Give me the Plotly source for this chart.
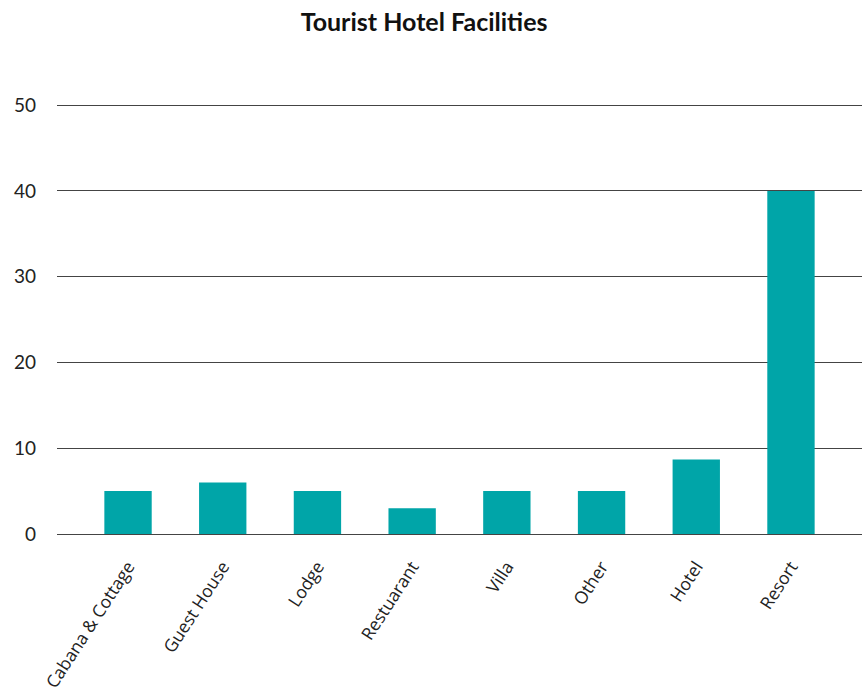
import plotly.graph_objects as go

# Facility counts by type
categories = ["Cabana & Cottage", "Guest House", "Lodge", "Restuarant",
              "Villa", "Other", "Hotel", "Resort"]
counts = [5, 6, 5, 3, 5, 5, 8.7, 40]
y_ticks = [0, 10, 20, 30, 40, 50]

fig = go.Figure(
    go.Bar(
        x=categories,
        y=counts,
        width=0.5,
        marker=dict(color="#00A5A8", line=dict(width=0)),
    )
)

fig.update_layout(
    width=862,
    height=697,
    margin=dict(l=57, r=0, t=103, b=163),
    paper_bgcolor="white",
    plot_bgcolor="white",
    showlegend=False,
    title=dict(
        text="<b>Tourist Hotel Facilities</b>",
        x=0.492,
        xanchor="center",
        y=0.968,
        yanchor="middle",
        font=dict(family="Lato, Open Sans, sans-serif", size=25, color="#111111"),
    ),
    font=dict(family="Open Sans, sans-serif", color="#222222"),
)

fig.update_xaxes(
    type="category",
    range=[-0.75, 7.75],
    tickangle=-57,
    tickfont=dict(family="Open Sans, sans-serif", size=17.5, color="#222222"),
    ticklabelstandoff=18,
    showgrid=False,
    showline=False,
    ticks="",
)

fig.update_yaxes(
    range=[0, 50.25],
    tickvals=y_ticks,
    ticktext=[str(v) for v in y_ticks],
    tickfont=dict(family="Lato, Open Sans, sans-serif", size=19, color="#222222"),
    ticklabelstandoff=20,
    showgrid=True,
    gridcolor="#444444",
    gridwidth=1,
    zeroline=True,
    zerolinecolor="#444444",
    zerolinewidth=1,
    showline=False,
    ticks="",
)

fig.write_html("out.html")
